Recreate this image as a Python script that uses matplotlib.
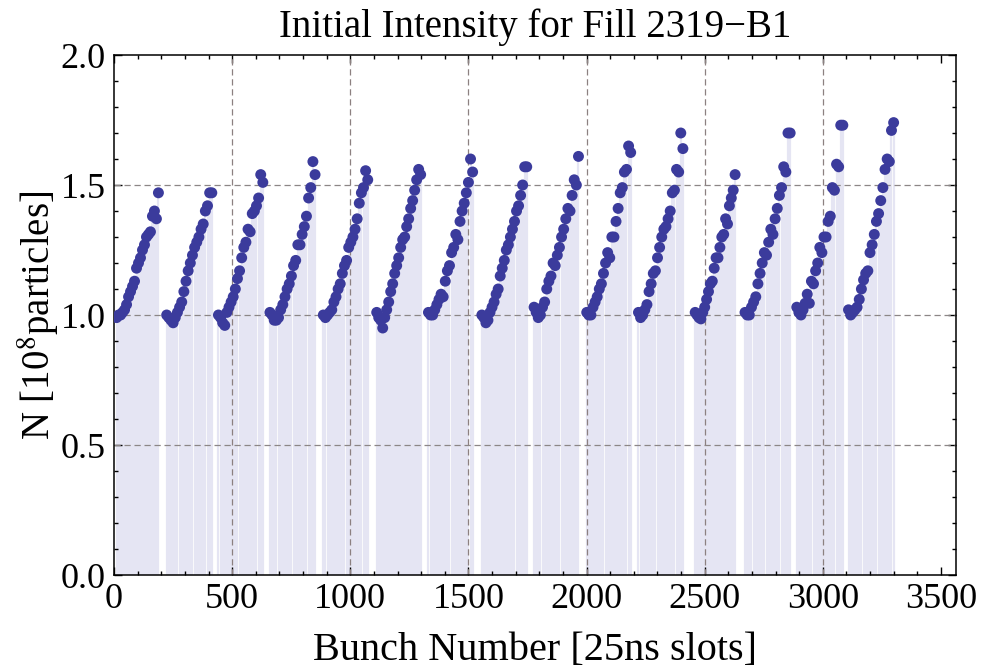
import numpy as np
import matplotlib
matplotlib.use("Agg")
import matplotlib.pyplot as plt
from matplotlib.ticker import MultipleLocator

plt.rcParams['font.family'] = ['Liberation Serif', 'DejaVu Serif']
plt.rcParams['mathtext.fontset'] = 'stix'

# ---- data ----
train_first = [11, 223, 442, 660, 886, 1112, 1331, 1557, 1778, 2001, 2220, 2460, 2671, 2890, 3109]
train_last = [188, 414, 630, 851, 1074, 1298, 1518, 1747, 1966, 2187, 2408, 2629, 2862, 3085, 3300]

t1 = [0.99, 1.00, 1.00, 1.01, 1.02, 1.04, 1.07, 1.09, 1.11, 1.13, 1.18, 1.20, 1.22, 1.25, 1.27, 1.30, 1.31, 1.32, 1.38, 1.40, 1.37, 1.47]
t2 = [1.00, 0.99, 0.98, 0.97, 0.99, 1.01, 1.03, 1.05, 1.09, 1.13, 1.17, 1.20, 1.23, 1.26, 1.28, 1.30, 1.33, 1.35, 1.40, 1.42, 1.47, 1.47]
t3 = [1.00, 0.99, 0.97, 0.96, 1.01, 1.03, 1.05, 1.07, 1.10, 1.14, 1.17, 1.22, 1.26, 1.28, 1.33, 1.32, 1.39, 1.40, 1.42, 1.45, 1.54, 1.51]
t4 = [1.01, 1.00, 0.98, 0.98, 0.99, 1.02, 1.04, 1.07, 1.10, 1.12, 1.15, 1.19, 1.21, 1.27, 1.27, 1.31, 1.34, 1.38, 1.45, 1.49, 1.59, 1.54]
t5 = [1.00, 0.99, 1.00, 1.01, 1.02, 1.05, 1.07, 1.10, 1.12, 1.16, 1.19, 1.21, 1.26, 1.28, 1.30, 1.33, 1.37, 1.43, 1.47, 1.49, 1.555, 1.52]
t6 = [1.01, 0.99, 0.98, 0.95, 0.99, 1.02, 1.05, 1.09, 1.12, 1.16, 1.19, 1.22, 1.26, 1.29, 1.30, 1.34, 1.37, 1.41, 1.44, 1.48, 1.52, 1.56, 1.54]
t7 = [1.01, 1.00, 1.00, 1.02, 1.04, 1.06, 1.08, 1.07, 1.13, 1.17, 1.19, 1.24, 1.26, 1.31, 1.29, 1.36, 1.40, 1.43, 1.47, 1.51, 1.60, 1.55]
t8 = [1.00, 0.99, 0.97, 0.98, 1.01, 1.03, 1.05, 1.08, 1.10, 1.15, 1.18, 1.21, 1.25, 1.27, 1.30, 1.33, 1.36, 1.40, 1.42, 1.46, 1.50, 1.57, 1.57]
t9 = [1.03, 1.01, 0.99, 1.00, 1.03, 1.05, 1.10, 1.13, 1.15, 1.20, 1.19, 1.23, 1.26, 1.30, 1.33, 1.37, 1.41, 1.40, 1.46, 1.52, 1.50, 1.61]
t10 = [1.01, 1.00, 1.00, 1.03, 1.05, 1.07, 1.10, 1.12, 1.16, 1.20, 1.24, 1.22, 1.30, 1.30, 1.36, 1.41, 1.47, 1.49, 1.55, 1.56, 1.65, 1.625]
t11 = [1.01, 0.99, 1.00, 1.02, 1.04, 1.09, 1.12, 1.16, 1.17, 1.22, 1.26, 1.30, 1.33, 1.34, 1.37, 1.40, 1.47, 1.48, 1.56, 1.55, 1.70, 1.64]
t12 = [1.01, 1.00, 0.99, 0.985, 1.01, 1.03, 1.06, 1.09, 1.12, 1.13, 1.18, 1.22, 1.22, 1.26, 1.30, 1.31, 1.37, 1.35, 1.42, 1.45, 1.48, 1.54]
t13 = [1.01, 1.00, 1.00, 1.03, 1.05, 1.07, 1.12, 1.16, 1.20, 1.24, 1.23, 1.28, 1.33, 1.31, 1.37, 1.41, 1.46, 1.49, 1.57, 1.55, 1.70, 1.70]
t14 = [1.03, 1.01, 1.00, 1.02, 1.045, 1.08, 1.045, 1.13, 1.12, 1.17, 1.20, 1.26, 1.24, 1.30, 1.30, 1.36, 1.38, 1.49, 1.48, 1.58, 1.57, 1.73, 1.73]
t15 = [1.02, 1.00, 1.01, 1.02, 1.03, 1.06, 1.10, 1.135, 1.16, 1.17, 1.24, 1.27, 1.31, 1.36, 1.39, 1.44, 1.49, 1.56, 1.60, 1.59, 1.71, 1.74]

trains = [t1, t2, t3, t4, t5, t6, t7, t8, t9, t10, t11, t12, t13, t14, t15]

xticks = [0, 500, 1000, 1500, 2000, 2500, 3000, 3500]
yticks = [0.0, 0.5, 1.0, 1.5, 2.0]
xgrid = [500, 1000, 1500, 2000, 2500, 3000]
ygrid = [0.5, 1.0, 1.5]

title = "Initial Intensity for Fill 2319\u2212B1"
xlabel = "Bunch Number [25ns slots]"
ylabel = r"N [10$^{8}$particles]"

# ---- assemble ----
xs, ys = [], []
for first, last, vals in zip(train_first, train_last, trains):
    xs.append(np.linspace(first, last, len(vals)))
    ys.append(np.array(vals))
x = np.concatenate(xs)
y = np.concatenate(ys)

fig = plt.figure(figsize=(9.84, 6.72), dpi=100)
ax = fig.add_axes([114/984, (672-575)/672, (956-114)/984, (575-55)/672])

ax.vlines(x, 0, y, colors='#e5e5f3', lw=1.6, zorder=1)
for gx in xgrid:
    ax.axvline(gx, color='#8c8080', lw=0.9, dashes=(5, 3), zorder=2)
for gy in ygrid:
    ax.axhline(gy, color='#8c8686', lw=0.9, dashes=(5, 3), zorder=2)

ax.scatter(x, y, s=62, color='#3b3b9c', edgecolors='none', zorder=3)

ax.set_xlim(0, 3564)
ax.set_ylim(0, 2.0)
ax.set_xticks(xticks)
ax.set_xticklabels([str(t) for t in xticks])
ax.set_yticks(yticks)
ax.set_yticklabels([f"{t:.1f}" for t in yticks])
ax.xaxis.set_minor_locator(MultipleLocator(100))
ax.yaxis.set_minor_locator(MultipleLocator(0.1))
ax.tick_params(which='both', direction='in', top=True, right=True, labelsize=26, width=1.0)
ax.tick_params(which='major', length=6, pad=6)
ax.tick_params(which='minor', length=3)
for s in ax.spines.values():
    s.set_linewidth(1.1)

ax.set_title(title, fontsize=28, pad=13)
ax.set_xlabel(xlabel, fontsize=29, labelpad=11)
ax.set_ylabel(ylabel, fontsize=28, labelpad=0)

fig.savefig("out.png", dpi=100)
